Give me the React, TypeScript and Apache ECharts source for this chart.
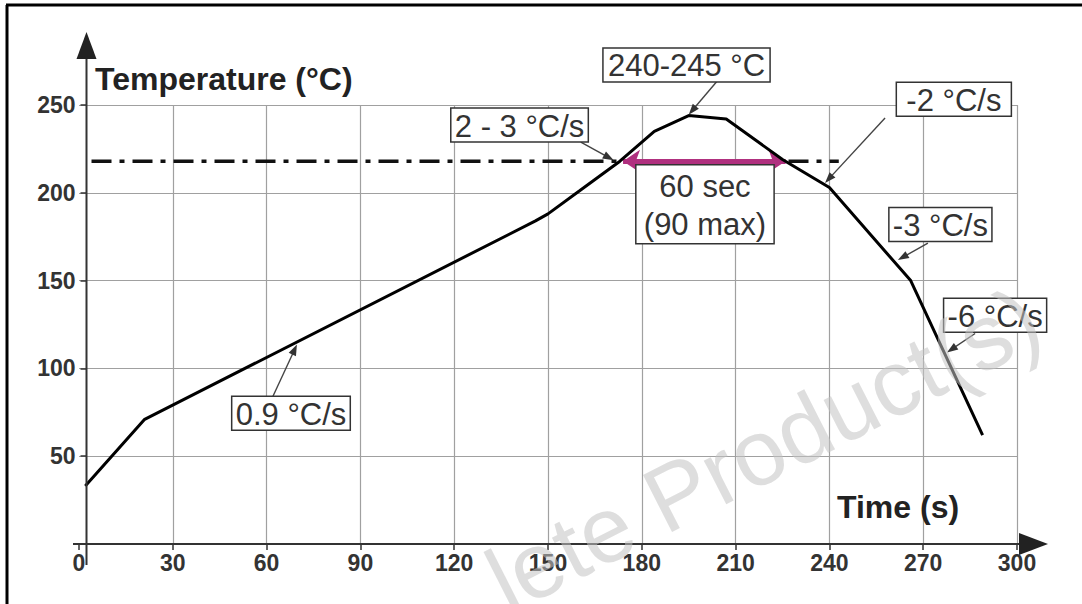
import React, { useEffect, useRef } from "react";
import * as echarts from "echarts";

// ---- data ----
const profileTime = [2, 21, 146, 150, 160, 173, 184, 195, 207, 225, 240, 266, 289];
const profileTemp = [33, 71, 184, 188, 201, 218, 235, 244, 242, 219, 203, 150, 62];

const liquidusTemp = 218;
const liquidusSpan = [4, 243];
const aboveLiquidusSpan = [174, 226];

const annotationTexts = [
  "240-245 °C",
  "2 - 3 °C/s",
  "-2 °C/s",
  "-3 °C/s",
  "-6 °C/s",
  "0.9 °C/s",
  "60 sec\n(90 max)",
];
const annotationAt = [
  [194.3, 272.8],
  [140.9, 238.6],
  [279.8, 253.3],
  [275.5, 181.9],
  [293.0, 130.3],
  [67.8, 74.5],
  [200.2, 193.5],
];
const annotationPadX = [5, 4, 10, 4, 4, 4, 8];
const pointerFrom = [
  [204.4, 264.2],
  [160.5, 228.9],
  [257.8, 242.6],
  [271.5, 171.4],
  [286.6, 119.9],
  [62.0, 84.0],
];
const pointerTo = [
  [195.0, 244.5],
  [171.0, 218.5],
  [238.6, 205.6],
  [261.9, 161.7],
  [277.6, 109.1],
  [69.7, 113.6],
];

const FONT = "Liberation Sans, Arial, Helvetica, sans-serif";

function measure(text: string, font: string): number {
  const c = document.createElement("canvas").getContext("2d");
  if (!c) return text.length * 15;
  c.font = font;
  return c.measureText(text).width;
}

export default function App() {
  const ref = useRef<HTMLDivElement>(null);

  useEffect(() => {
    if (!ref.current) return;
    const chart = echarts.init(ref.current, undefined, { renderer: "svg" });

    const option: any = {
      animation: false,
      backgroundColor: "#ffffff",
      grid: { left: 79, right: 65, top: 105, bottom: 60, containLabel: false },
      xAxis: {
        type: "value",
        min: 0,
        max: 300,
        interval: 30,
        axisLine: { show: false, onZero: false },
        axisTick: { show: true, length: 6, lineStyle: { color: "#333", width: 1.5 } },
        axisLabel: { fontSize: 23, fontWeight: "bold", color: "#333", margin: 7, fontFamily: FONT },
        splitLine: { show: true, showMinLine: false, lineStyle: { color: "#a0a0a0", width: 1.2 } },
      },
      yAxis: {
        type: "value",
        min: 0,
        max: 250,
        interval: 50,
        offset: -7.5,
        axisLine: { show: false, onZero: false },
        axisTick: { show: true, length: 6, lineStyle: { color: "#333", width: 1.5 } },
        axisLabel: {
          fontSize: 23,
          fontWeight: "bold",
          color: "#333",
          margin: 11,
          fontFamily: FONT,
          showMinLabel: false,
        },
        splitLine: { show: true, showMinLine: false, lineStyle: { color: "#a0a0a0", width: 1.2 } },
      },
      series: [
        {
          name: "profile",
          type: "line",
          data: profileTime.map((t, i) => [t, profileTemp[i]]),
          showSymbol: false,
          symbol: "none",
          lineStyle: { color: "#000", width: 3 },
          z: 5,
          silent: true,
          markLine: {
            silent: true,
            symbol: ["arrow", "arrow"],
            symbolSize: 17,
            label: { show: false },
            emphasis: { disabled: true },
            lineStyle: { color: "#b0307f", width: 5, type: "solid" },
            data: [
              [
                { coord: [aboveLiquidusSpan[0], liquidusTemp] },
                { coord: [aboveLiquidusSpan[1], liquidusTemp] },
              ],
            ],
          },
        },
        {
          name: "liquidus",
          type: "line",
          data: [
            [liquidusSpan[0], liquidusTemp],
            [liquidusSpan[1], liquidusTemp],
          ],
          showSymbol: false,
          symbol: "none",
          lineStyle: { color: "#111", width: 3.5, type: [20, 8, 5, 8] },
          z: 4,
          silent: true,
        },
      ],
    };

    chart.setOption(option);

    const p = (t: number, v: number) =>
      chart.convertToPixel({ xAxisIndex: 0, yAxisIndex: 0 }, [t, v]) as number[];
    const origin = p(0, 0);
    const xEnd = p(300, 0);
    const yTop = p(0, 250);
    const axisX = origin[0] + 7.5;
    const axisY = origin[1];

    const graphics: any[] = [
      // frame
      { type: "line", silent: true, shape: { x1: 7, y1: 5, x2: 7, y2: 604 }, style: { stroke: "#000", lineWidth: 3 } },
      { type: "line", silent: true, shape: { x1: 6, y1: 5, x2: 1082, y2: 5 }, style: { stroke: "#000", lineWidth: 3 } },
      // x axis
      {
        type: "line",
        silent: true,
        z: 10,
        shape: { x1: origin[0] - 6, y1: axisY, x2: xEnd[0] + 6, y2: axisY },
        style: { stroke: "#333", lineWidth: 2 },
      },
      {
        type: "polygon",
        silent: true,
        z: 10,
        shape: {
          points: [
            [xEnd[0] + 2, axisY - 11],
            [xEnd[0] + 31, axisY],
            [xEnd[0] + 2, axisY + 11],
          ],
        },
        style: { fill: "#222" },
      },
      // y axis
      {
        type: "line",
        silent: true,
        z: 10,
        shape: { x1: axisX, y1: axisY + 21, x2: axisX, y2: yTop[1] - 48 },
        style: { stroke: "#333", lineWidth: 2 },
      },
      {
        type: "polygon",
        silent: true,
        z: 10,
        shape: {
          points: [
            [axisX - 10, yTop[1] - 46],
            [axisX, yTop[1] - 73],
            [axisX + 10, yTop[1] - 46],
          ],
        },
        style: { fill: "#222" },
      },
      // axis titles
      {
        type: "text",
        silent: true,
        z: 10,
        x: 95,
        y: 79,
        style: {
          text: "Temperature (°C)",
          font: "bold 32px " + FONT,
          fill: "#222",
          textAlign: "left",
          textVerticalAlign: "middle",
        },
      },
      {
        type: "text",
        silent: true,
        z: 10,
        x: 837,
        y: 507,
        style: {
          text: "Time (s)",
          font: "bold 32px " + FONT,
          fill: "#222",
          textAlign: "left",
          textVerticalAlign: "middle",
        },
      },
    ];

    // pointer lines with small arrowheads
    pointerFrom.forEach((f, i) => {
      const a = p(f[0], f[1]);
      const b = p(pointerTo[i][0], pointerTo[i][1]);
      const dx = b[0] - a[0];
      const dy = b[1] - a[1];
      const len = Math.sqrt(dx * dx + dy * dy) || 1;
      const ux = dx / len;
      const uy = dy / len;
      const head = 11;
      const half = 4;
      const bx = b[0] - ux * head;
      const by = b[1] - uy * head;
      graphics.push({
        type: "line",
        silent: true,
        z: 11,
        shape: { x1: a[0], y1: a[1], x2: bx + ux * 2, y2: by + uy * 2 },
        style: { stroke: "#444", lineWidth: 1.4 },
      });
      graphics.push({
        type: "polygon",
        silent: true,
        z: 11,
        shape: {
          points: [
            [b[0], b[1]],
            [bx - uy * half, by + ux * half],
            [bx + uy * half, by - ux * half],
          ],
        },
        style: { fill: "#333" },
      });
    });

    // annotation boxes
    const boxFont = "31px " + FONT;
    annotationTexts.forEach((txt, i) => {
      const c = p(annotationAt[i][0], annotationAt[i][1]);
      const lines = txt.split("\n");
      const lh = lines.length > 1 ? 38 : 33;
      const w = Math.max(...lines.map((l) => measure(l, boxFont))) + 2 * annotationPadX[i];
      const h = lines.length * lh + (lines.length > 1 ? 3 : 1);
      graphics.push({
        type: "rect",
        silent: true,
        z: 20,
        shape: { x: c[0] - w / 2, y: c[1] - h / 2, width: w, height: h },
        style: { fill: "#ffffff", stroke: "#333", lineWidth: 1.5 },
      });
      lines.forEach((l, k) => {
        graphics.push({
          type: "text",
          silent: true,
          z: 21,
          x: c[0],
          y: c[1] - h / 2 + (lines.length > 1 ? 1.5 : 0.5) + lh * (k + 0.5) + 1,
          style: {
            text: l,
            font: boxFont,
            fill: "#333",
            textAlign: "center",
            textVerticalAlign: "middle",
          },
        });
      });
    });

    // watermark
    graphics.push({
      type: "text",
      silent: true,
      z: 100,
      x: 515,
      y: 628,
      rotation: 0.47,
      style: {
        text: "lete Product(s)",
        font: "93px " + FONT,
        fill: "rgba(195,195,195,0.55)",
        textAlign: "left",
        textVerticalAlign: "bottom",
      },
    });

    chart.setOption({ graphic: graphics });

    return () => chart.dispose();
  }, []);

  return (
    <div
      ref={ref}
      style={{ position: "fixed", left: 0, top: 0, width: 1082, height: 604, background: "#fff" }}
    />
  );
}
